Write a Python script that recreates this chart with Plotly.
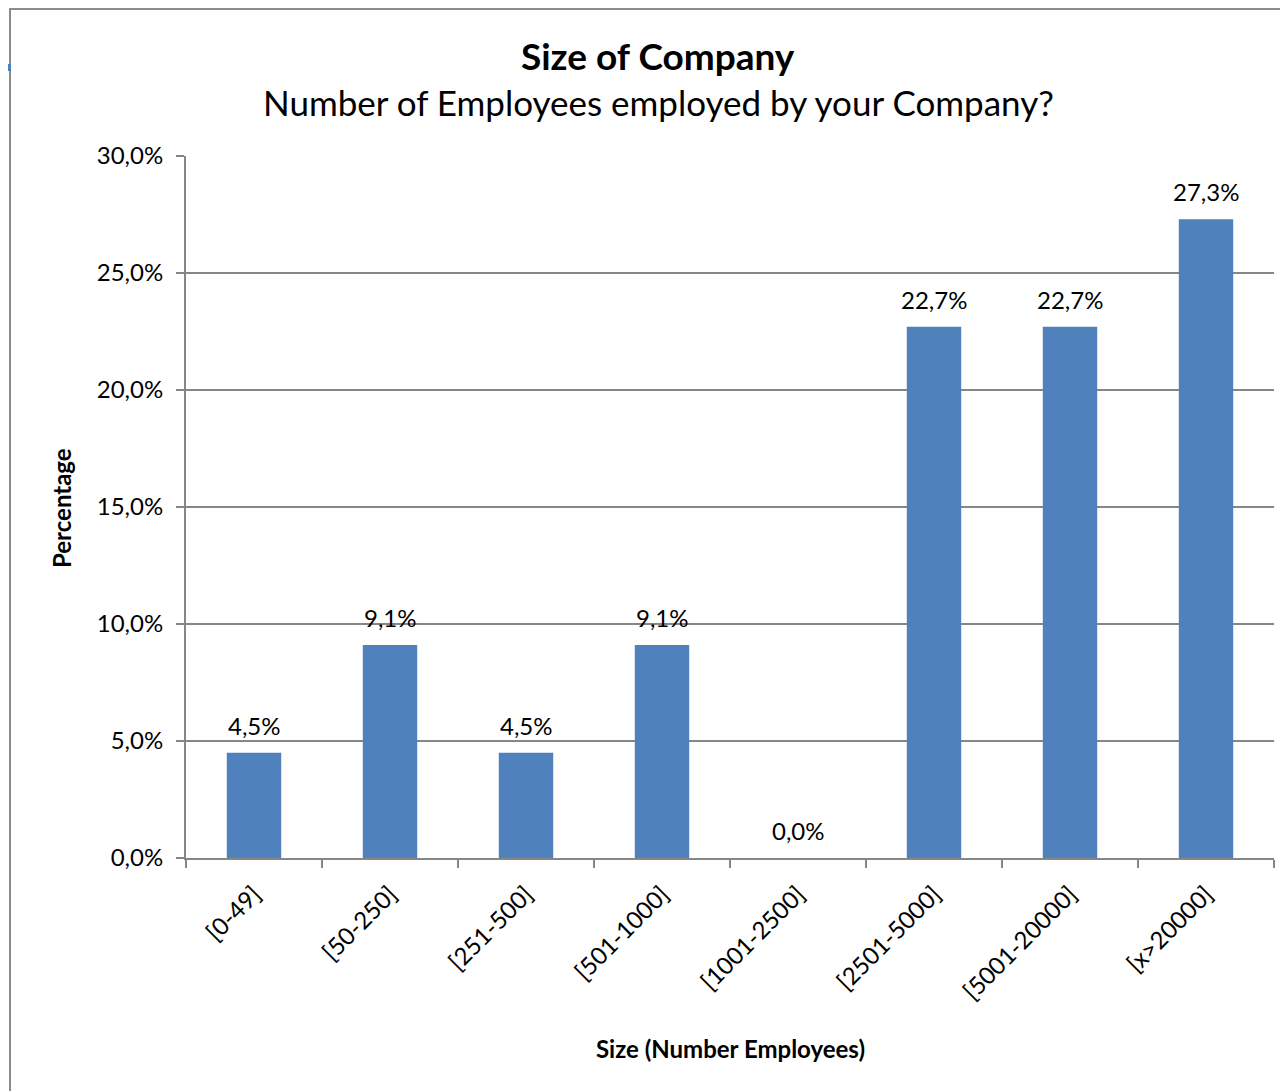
import plotly.graph_objects as go

categories = ["[0-49]", "[50-250]", "[251-500]", "[501-1000]", "[1001-2500]",
              "[2501-5000]", "[5001-20000]", "[x>20000]"]
values = [4.5, 9.1, 4.5, 9.1, 0.0, 22.7, 22.7, 27.3]
labels = [f"{v:.1f}%".replace(".", ",") for v in values]
yticks = [0, 5, 10, 15, 20, 25, 30]
ytick_labels = [f"{t:.1f}%".replace(".", ",") for t in yticks]

OFF = 8  # page body margin
W, H = 1288 - OFF, 1091 - OFF
L, R, T, B = 186 - OFF, 1274 - OFF, 156 - OFF, 858 - OFF
FONT = "Lato"


def px(x):
    # x given in screenshot pixels
    return (x - OFF - L) / (R - L)


def py(y):
    return (B - (y - OFF)) / (B - T)


fig = go.Figure()
fig.add_trace(go.Bar(
    x=categories, y=values, width=0.4,
    marker=dict(color="#4F81BD", line=dict(width=0)),
    hoverinfo="x+y",
))

label_annotations = [
    dict(x=c, y=v, xref="x", yref="y", text=t, showarrow=False,
         yanchor="bottom", xanchor="center", yshift=11,
         font=dict(family=FONT, size=24, color="#000000"))
    for c, v, t in zip(categories, values, labels)
]

fig.update_layout(
    width=W, height=H,
    margin=dict(l=L, r=W - R, t=T, b=H - B, pad=0),
    paper_bgcolor="white", plot_bgcolor="white",
    showlegend=False, bargap=0.6,
    font=dict(family=FONT, color="#000000"),
    xaxis=dict(
        type="category", tickson="boundaries", ticks="outside", ticklen=8,
        tickcolor="#868686", tickwidth=2, showline=True, linecolor="#868686",
        linewidth=2, showgrid=False, tickangle=-45, ticklabelstandoff=11,
        tickfont=dict(family=FONT, size=24), range=[-0.5, 7.5],
    ),
    yaxis=dict(
        range=[0, 30], tickvals=yticks, ticktext=ytick_labels,
        ticks="outside", ticklen=8, tickcolor="#868686", tickwidth=2,
        showline=True, linecolor="#868686", linewidth=2, ticklabelstandoff=8,
        showgrid=True, gridcolor="#868686", gridwidth=1.5, zeroline=False,
        tickfont=dict(family=FONT, size=24),
    ),
    shapes=[
        dict(type="rect", xref="paper", yref="paper",
             x0=px(10), x1=px(1320), y0=py(9), y1=py(1120),
             line=dict(color="#8C8C8C", width=2), fillcolor="rgba(0,0,0,0)",
             layer="below"),
        dict(type="rect", xref="paper", yref="paper",
             x0=px(0), x1=px(11), y0=py(64), y1=py(71),
             line=dict(width=0), fillcolor="#4F81BD"),
    ],
    annotations=label_annotations + [
        dict(text="<b>Size of Company</b>", xref="paper", yref="paper",
             x=px(658), y=py(55), showarrow=False,
             font=dict(family=FONT, size=37), xanchor="center", yanchor="middle"),
        dict(text="Number of Employees employed by your Company?", xref="paper",
             yref="paper", x=px(658), y=py(102), showarrow=False,
             font=dict(family=FONT, size=35), xanchor="center", yanchor="middle"),
        dict(text="<b>Percentage</b>", xref="paper", yref="paper",
             x=px(62), y=py(508), showarrow=False, textangle=-90,
             font=dict(family=FONT, size=24), xanchor="center", yanchor="middle"),
        dict(text="<b>Size (Number Employees)</b>", xref="paper", yref="paper",
             x=px(730), y=py(1048), showarrow=False,
             font=dict(family=FONT, size=24), xanchor="center", yanchor="middle"),
    ],
)

fig.write_html("out.html")
